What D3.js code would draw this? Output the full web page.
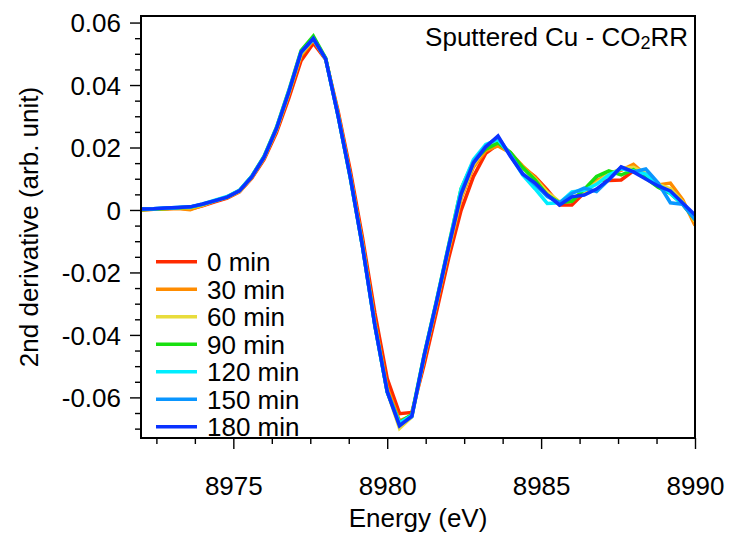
<!DOCTYPE html>
<html>
<head>
<meta charset="utf-8">
<script src="https://cdn.jsdelivr.net/npm/d3@7"></script>
<style>
  html, body { margin: 0; padding: 0; background: #fff; }
  svg text { font-family: "Liberation Sans", Arial, sans-serif; fill: #000; }
</style>
</head>
<body>
<svg id="chart" width="729" height="535"></svg>
<script>
// ---------------- DATA ----------------
const energies = d3.range(46).map(i => +(8972 + 0.4 * i).toFixed(1));

const min0 = [
  0.0001, 0.0002, 0.0004, 0.0006, 0.0003, 0.0013, 0.0026, 0.0038, 0.0058, 0.0102,
  0.0162, 0.0247, 0.0357, 0.0478, 0.0534, 0.0482, 0.0318, 0.0127, -0.0090, -0.0330,
  -0.0540, -0.0652, -0.0648, -0.0495, -0.0326, -0.0153, -0.0001, 0.0107, 0.0181, 0.0210,
  0.0183, 0.0136, 0.0107, 0.0064, 0.0016, 0.0016, 0.0055, 0.0096, 0.0094, 0.0096,
  0.0125, 0.0107, 0.0085, 0.0058, 0.0018, -0.0026];
const min30 = [
  0.0000, 0.0002, 0.0003, 0.0005, 0.0001, 0.0015, 0.0030, 0.0040, 0.0059, 0.0104,
  0.0166, 0.0254, 0.0370, 0.0494, 0.0544, 0.0484, 0.0309, 0.0112, -0.0107, -0.0357,
  -0.0569, -0.0675, -0.0658, -0.0475, -0.0304, -0.0129, 0.0036, 0.0137, 0.0190, 0.0205,
  0.0183, 0.0141, 0.0105, 0.0058, 0.0023, 0.0030, 0.0063, 0.0092, 0.0117, 0.0127,
  0.0146, 0.0112, 0.0080, 0.0086, 0.0033, -0.0050];
const min60 = [
  0.0002, 0.0003, 0.0005, 0.0007, 0.0007, 0.0016, 0.0029, 0.0041, 0.0060, 0.0105,
  0.0168, 0.0257, 0.0374, 0.0500, 0.0547, 0.0484, 0.0305, 0.0107, -0.0114, -0.0367,
  -0.0581, -0.0699, -0.0662, -0.0471, -0.0298, -0.0121, 0.0043, 0.0145, 0.0200, 0.0220,
  0.0181, 0.0134, 0.0099, 0.0056, 0.0026, 0.0038, 0.0058, 0.0087, 0.0115, 0.0132,
  0.0137, 0.0117, 0.0082, 0.0068, 0.0026, -0.0036];
const min90 = [
  0.0001, 0.0003, 0.0005, 0.0007, 0.0009, 0.0018, 0.0030, 0.0042, 0.0063, 0.0108,
  0.0172, 0.0264, 0.0382, 0.0510, 0.0557, 0.0486, 0.0303, 0.0103, -0.0119, -0.0370,
  -0.0583, -0.0680, -0.0655, -0.0463, -0.0291, -0.0111, 0.0068, 0.0156, 0.0195, 0.0215,
  0.0185, 0.0136, 0.0097, 0.0048, 0.0023, 0.0028, 0.0066, 0.0107, 0.0125, 0.0112,
  0.0129, 0.0102, 0.0073, 0.0053, 0.0018, -0.0031];
const min120 = [
  0.0003, 0.0004, 0.0006, 0.0008, 0.0010, 0.0019, 0.0031, 0.0043, 0.0063, 0.0108,
  0.0171, 0.0262, 0.0380, 0.0505, 0.0547, 0.0483, 0.0303, 0.0104, -0.0119, -0.0371,
  -0.0583, -0.0682, -0.0658, -0.0465, -0.0292, -0.0113, 0.0068, 0.0161, 0.0210, 0.0225,
  0.0176, 0.0112, 0.0068, 0.0021, 0.0023, 0.0058, 0.0063, 0.0082, 0.0112, 0.0132,
  0.0125, 0.0115, 0.0082, 0.0053, 0.0018, -0.0021];
const min150 = [
  0.0003, 0.0004, 0.0006, 0.0008, 0.0010, 0.0018, 0.0029, 0.0041, 0.0062, 0.0107,
  0.0170, 0.0261, 0.0378, 0.0505, 0.0549, 0.0484, 0.0304, 0.0105, -0.0119, -0.0371,
  -0.0583, -0.0688, -0.0662, -0.0466, -0.0294, -0.0115, 0.0056, 0.0154, 0.0205, 0.0233,
  0.0176, 0.0117, 0.0082, 0.0043, 0.0023, 0.0053, 0.0070, 0.0059, 0.0097, 0.0137,
  0.0122, 0.0131, 0.0087, 0.0023, 0.0018, -0.0031];
const min180 = [
  0.0003, 0.0004, 0.0006, 0.0008, 0.0010, 0.0019, 0.0030, 0.0041, 0.0061, 0.0106,
  0.0169, 0.0260, 0.0377, 0.0505, 0.0549, 0.0484, 0.0303, 0.0105, -0.0119, -0.0370,
  -0.0581, -0.0691, -0.0660, -0.0467, -0.0296, -0.0117, 0.0050, 0.0150, 0.0202, 0.0237,
  0.0172, 0.0115, 0.0087, 0.0048, 0.0016, 0.0042, 0.0048, 0.0067, 0.0097, 0.0138,
  0.0122, 0.0099, 0.0077, 0.0061, 0.0022, -0.0016];

const seriesNames = ["0 min", "30 min", "60 min", "90 min", "120 min", "150 min", "180 min"];
const seriesValues = [min0, min30, min60, min90, min120, min150, min180];
const seriesColors = ["#ff2a00", "#ff8c00", "#e8dc3c", "#18e010", "#00eeff", "#0a96ff", "#0a32ff"];

const xMajorTicks = [8975, 8980, 8985, 8990];
const xTickLabels = ["8975", "8980", "8985", "8990"];
const yMajorTicks = [0.06, 0.04, 0.02, 0, -0.02, -0.04, -0.06];
const yTickLabels = ["0.06", "0.04", "0.02", "0", "-0.02", "-0.04", "-0.06"];
const xMinorTicks = [8972.5, 8973.75, 8976.25, 8977.5, 8978.75, 8981.25, 8982.5, 8983.75, 8986.25, 8987.5, 8988.75];
const yMinorTicks = d3.range(-14, 13).map(i => +(i * 0.005).toFixed(3)).filter(v => !yMajorTicks.includes(v));

const xTitle = "Energy (eV)";
const yTitle = "2nd derivative (arb. unit)";

// ---------------- LAYOUT ----------------
const svg = d3.select("#chart");
const pL = 141, pR = 695, pT = 16, pB = 438;
const x = d3.scaleLinear().domain([8972, 8990]).range([pL, pR]);
const y = d3.scaleLinear().domain([-0.073, 0.0621]).range([pB, pT]);
const fs = 26;

svg.append("defs").append("clipPath").attr("id", "clip")
  .append("rect").attr("x", pL).attr("y", pT).attr("width", pR - pL).attr("height", pB - pT);

// lines
const line = d3.line().x((d, i) => x(energies[i])).y(d => y(d));
const gLines = svg.append("g").attr("clip-path", "url(#clip)");
seriesValues.forEach((vals, k) => {
  gLines.append("path")
    .attr("d", line(vals))
    .attr("fill", "none")
    .attr("stroke", seriesColors[k])
    .attr("stroke-width", 3.5)
    .attr("stroke-linejoin", "miter")
    .attr("stroke-miterlimit", 3);
});

// axes
const xAxisMajor = d3.axisBottom(x).tickValues(xMajorTicks).tickSize(11).tickFormat((d, i) => xTickLabels[i]).tickPadding(10);
const xAxisMinor = d3.axisBottom(x).tickValues(xMinorTicks).tickSize(6).tickFormat("");
const yAxisMajor = d3.axisLeft(y).tickValues(yMajorTicks).tickSize(11).tickFormat((d, i) => yTickLabels[i]).tickPadding(9);
const yAxisMinor = d3.axisLeft(y).tickValues(yMinorTicks).tickSize(6).tickFormat("");

function styleAxis(g) {
  g.select(".domain").remove();
  g.selectAll(".tick line").attr("stroke", "#000").attr("stroke-width", 1.4);
  g.selectAll(".tick text").attr("font-size", fs).attr("font-family", "Liberation Sans, Arial, sans-serif").attr("fill", "#000");
}
svg.append("g").attr("transform", `translate(0,${pB})`).call(xAxisMajor).call(styleAxis)
  .selectAll(".tick text").attr("dy", null).attr("y", 57);
svg.append("g").attr("transform", `translate(0,${pB})`).call(xAxisMinor).call(styleAxis);
svg.append("g").attr("transform", `translate(${pL},0)`).call(yAxisMajor).call(styleAxis)
  .selectAll(".tick text").attr("dy", "0.36em");
svg.append("g").attr("transform", `translate(${pL},0)`).call(yAxisMinor).call(styleAxis);

// frame
svg.append("rect").attr("x", pL).attr("y", pT).attr("width", pR - pL).attr("height", pB - pT)
  .attr("fill", "none").attr("stroke", "#000").attr("stroke-width", 2);

// axis titles
svg.append("text").attr("x", (pL + pR) / 2).attr("y", 527).attr("text-anchor", "middle")
  .attr("font-size", fs).text(xTitle);
svg.append("text").attr("transform", `translate(38,${(pT + pB) / 2}) rotate(-90)`)
  .attr("text-anchor", "middle").attr("font-size", fs).text(yTitle);

// title
const t = svg.append("text").attr("x", 688).attr("y", 46).attr("text-anchor", "end").attr("font-size", fs);
t.append("tspan").text("Sputtered Cu - CO");
t.append("tspan").attr("font-size", 18).attr("dy", 3).text("2");
t.append("tspan").attr("dy", -3).text("RR");

// legend
const legend = svg.append("g");
seriesNames.forEach((name, k) => {
  const yy = 261.7 + k * 27.5;
  legend.append("line").attr("x1", 156).attr("x2", 197).attr("y1", yy).attr("y2", yy)
    .attr("stroke", seriesColors[k]).attr("stroke-width", 3.5);
  legend.append("text").attr("x", 207).attr("y", yy).attr("dy", "0.36em").attr("font-size", fs).text(name);
});
</script>
</body>
</html>
